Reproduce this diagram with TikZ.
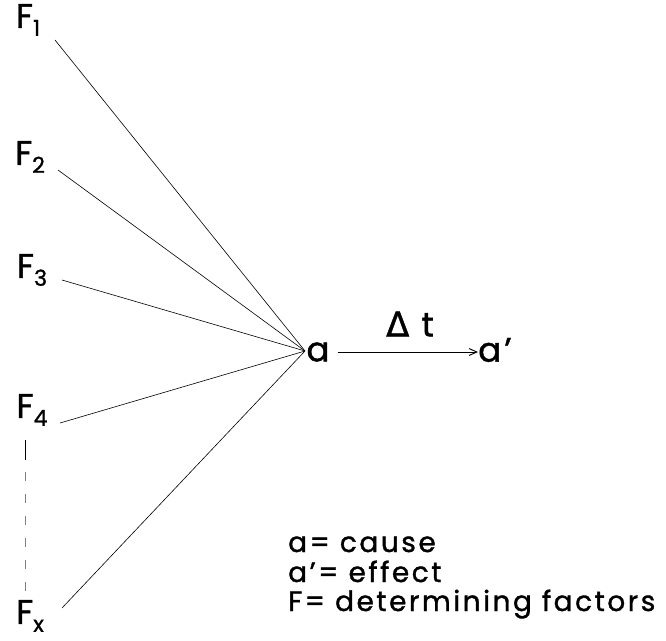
\documentclass[tikz,border=0pt]{standalone}
\usepackage{fontspec}
\setmainfont{Poppins}[LetterSpace=9,FakeBold=1.2]
\newfontfamily\greekfont{DejaVu Sans}[FakeBold=1.2]
\usetikzlibrary{arrows.meta}
\newcommand\lowsub[1]{\raisebox{-8pt}{\fontsize{22}{22}\selectfont #1}}
\newcommand\tick{\char39}
\begin{document}
\begin{tikzpicture}[x=1pt,y=-1pt,
  lab/.style={inner sep=0pt,font=\fontsize{34}{34}\selectfont},
  legend/.style={inner sep=0pt,anchor=base west,font=\fontsize{28}{28}\selectfont},
  fan/.style={line width=0.6pt},
  flow/.style={line width=0.9pt,-{Straight Barb[length=8pt,width=7pt]}}]
\useasboundingbox (0,0) rectangle (666,640);
\node[lab] (F1) at (28,20) {F\lowsub{1}};
\node[lab] (F2) at (30,157) {F\lowsub{2}};
\node[lab] (F3) at (32,270) {F\lowsub{3}};
\node[lab] (F4) at (32,410) {F\lowsub{4}};
\node[lab] (Fx) at (30,616) {F\lowsub{x}};
\coordinate (s1) at (55,40);
\coordinate (s2) at (58,170);
\coordinate (s3) at (62,280);
\coordinate (s4) at (60,423);
\coordinate (s5) at (62,608);
\coordinate (hub) at (305,351);
\foreach \i in {1,...,5} \draw[fan] (s\i) -- (hub);
\node[lab] (a) at (318,352) {a};
\node[lab] (ap) at (495,350) {a\tick};
\draw[flow] (a.east) ++(8,0) coordinate (ast) -- (ap.west |- ast) ;
\node[lab] (dt) at (410,324) {{\greekfont Δ} t};
\coordinate (d1) at (25,440);
\coordinate (d2) at (25,460);
\coordinate (d3) at (25,595);
\draw[line width=0.8pt] (d1) -- (d2);
\draw[line width=0.5pt,gray,dash pattern=on 9pt off 13pt] (d2) ++(0,12) -- (d3);
\node[legend] (l1) at (288,552) {a= cause};
\node[legend] (l2) at (288,582) {a\tick= effect};
\node[legend] (l3) at (288,611) {F= determining factors};
\end{tikzpicture}
\end{document}
